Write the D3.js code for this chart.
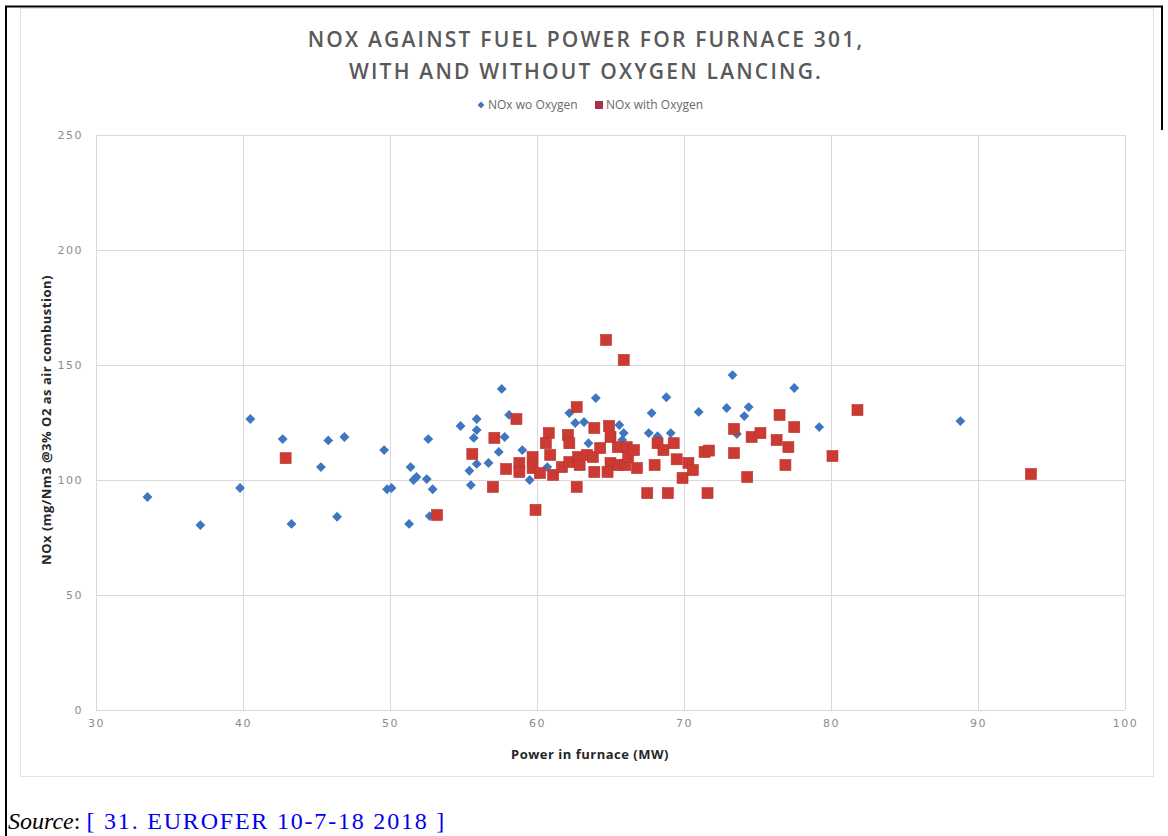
<!DOCTYPE html>
<html>
<head>
<meta charset="utf-8">
<script src="https://cdn.jsdelivr.net/npm/d3@7.9.0/dist/d3.min.js"></script>
<style>
  body { margin: 0; background: #fff; }
  svg { display: block; }
</style>
</head>
<body>
<svg id="chart" width="1168" height="836"></svg>
<script>
// NOx without oxygen lancing: [power MW, NOx]
const woOxygen = [
  [33.5, 92.6], [37.1, 80.4], [39.8, 96.5], [40.5, 126.5], [42.7, 117.8],
  [43.3, 80.9], [45.3, 105.6], [45.8, 117.2], [46.9, 118.7], [46.4, 84],
  [49.6, 113], [49.8, 96], [50.1, 96.5], [51.3, 80.9], [51.4, 105.6],
  [51.6, 100], [51.8, 101.3], [52.6, 117.8], [52.5, 100.4], [52.9, 96],
  [52.7, 84.3], [54.8, 123.5], [55.9, 126.5], [55.9, 121.7], [55.7, 118.3],
  [55.9, 107], [56.7, 107.4], [55.4, 104], [55.5, 97.8], [57.4, 112.2],
  [57.6, 139.6], [57.8, 118.7], [58.1, 128.3], [59.0, 113], [59.5, 100],
  [60.7, 105.6], [62.2, 129.1], [62.6, 124.8], [63.2, 125.2], [63.5, 116],
  [64.0, 135.6], [65.6, 123.9], [65.9, 120.4], [65.8, 117.4], [67.6, 120.4],
  [67.8, 129.1], [68.2, 119], [68.8, 136], [69.1, 120.4], [71.0, 129.6],
  [72.9, 131.3], [73.3, 145.6], [73.6, 120], [74.1, 127.8], [74.4, 131.7],
  [77.5, 140], [79.2, 123], [88.8, 125.6]
];

// NOx with oxygen lancing
const withOxygen = [
  [42.9, 109.5], [53.2, 84.8], [55.6, 111.3], [57.0, 97], [57.1, 118.3],
  [57.9, 104.8], [58.6, 126.5], [58.8, 107.4], [58.8, 103.5], [59.7, 110],
  [59.7, 105.2], [59.9, 87], [60.2, 103], [60.8, 120.4], [60.6, 116],
  [60.9, 110.9], [61.1, 102.2], [61.7, 105.6], [62.1, 119.6], [62.2, 116],
  [62.2, 107.8], [62.7, 131.7], [62.8, 110], [62.9, 106.5], [62.7, 97],
  [63.4, 110.9], [63.9, 122.6], [63.8, 110], [63.9, 103.5], [64.3, 113.9],
  [64.7, 160.9], [64.9, 123.5], [65.0, 118.7], [65.0, 107.4], [64.8, 103.5],
  [65.5, 114.3], [65.5, 106.5], [65.9, 152.2], [66.1, 114.3], [66.0, 106.5],
  [66.2, 110], [66.6, 113], [66.8, 105.2], [67.5, 94.3], [68.0, 106.5],
  [68.2, 116], [68.6, 113], [68.9, 94.3], [69.3, 116], [69.5, 109],
  [69.9, 100.9], [70.3, 107.4], [70.6, 104.3], [71.4, 112.2], [71.7, 112.8],
  [71.6, 94.3], [73.4, 122.2], [73.4, 111.7], [74.3, 101.3], [74.6, 118.7],
  [75.2, 120.4], [76.3, 117.4], [76.5, 128.3], [76.9, 106.5], [77.1, 114.3],
  [77.5, 123], [80.1, 110.4], [81.8, 130.4], [93.6, 102.6]
];

const xTicks = [30, 40, 50, 60, 70, 80, 90, 100];
const yTicks = [0, 50, 100, 150, 200, 250];
const titleLines = ["NOX AGAINST FUEL POWER FOR FURNACE 301,", "WITH AND WITHOUT OXYGEN LANCING."];

const svg = d3.select("#chart");
const blue = "#3f76c0";
const red = "#cc3b33";
const tickGrey = "#8c8c8c";

// page frame
svg.append("line").attr("x1", 5).attr("x2", 1163).attr("y1", 6.5).attr("y2", 6.5)
  .attr("stroke", "#000").attr("stroke-width", 2);
svg.append("line").attr("x1", 6).attr("x2", 6).attr("y1", 6).attr("y2", 836)
  .attr("stroke", "#000").attr("stroke-width", 2);
svg.append("line").attr("x1", 1162).attr("x2", 1162).attr("y1", 6).attr("y2", 130)
  .attr("stroke", "#000").attr("stroke-width", 2);

// chart image border
svg.append("rect").attr("x", 20.5).attr("y", 8.5).attr("width", 1133).attr("height", 768)
  .attr("fill", "#fff").attr("stroke", "#e2e2e2");

const x = d3.scaleLinear().domain([30, 100]).range([96, 1125]);
const y = d3.scaleLinear().domain([0, 250]).range([710, 135]);

// grid
const grid = svg.append("g");
grid.selectAll(".vg").data(xTicks).enter().append("line")
  .attr("x1", d => Math.round(x(d)) + 0.5).attr("x2", d => Math.round(x(d)) + 0.5)
  .attr("y1", y(250)).attr("y2", y(0))
  .attr("stroke", "#d9d9d9");
grid.selectAll(".hg").data(yTicks).enter().append("line")
  .attr("x1", x(30)).attr("x2", x(100))
  .attr("y1", d => Math.round(y(d)) + 0.5).attr("y2", d => Math.round(y(d)) + 0.5)
  .attr("stroke", "#d9d9d9");

// axes (labels only, Excel style)
const xAxis = svg.append("g").attr("transform", `translate(0,${y(0) + 9})`)
  .call(d3.axisBottom(x).tickValues(xTicks).tickSize(0).tickPadding(0));
const yAxis = svg.append("g").attr("transform", `translate(${x(30) - 13},0)`)
  .call(d3.axisLeft(y).tickValues(yTicks).tickSize(0).tickPadding(0));
[xAxis, yAxis].forEach(a => {
  a.select(".domain").remove();
  a.selectAll("text")
    .attr("fill", tickGrey)
    .attr("font-family", "'DejaVu Sans', sans-serif")
    .attr("font-size", "11px")
    .attr("letter-spacing", "1.5px");
});
yAxis.selectAll("text").attr("dy", "0.32em");

// series
svg.append("g").selectAll("path").data(woOxygen).enter().append("path")
  .attr("d", d3.symbol().type(d3.symbolDiamond2).size(62))
  .attr("transform", d => `translate(${x(d[0])},${y(d[1])})`)
  .attr("fill", blue);

svg.append("g").selectAll("rect").data(withOxygen).enter().append("rect")
  .attr("x", d => x(d[0]) - 5.5).attr("y", d => y(d[1]) - 5.5)
  .attr("width", 11).attr("height", 11)
  .attr("fill", red).attr("stroke", "#b83129").attr("stroke-width", 0.6);

// title
svg.append("g").selectAll("text").data(titleLines).enter().append("text")
  .attr("x", 586).attr("y", (d, i) => 47 + i * 32)
  .attr("text-anchor", "middle")
  .attr("font-family", "'Open Sans', sans-serif")
  .attr("font-weight", 600)
  .attr("font-size", "21px")
  .attr("letter-spacing", "2.2px")
  .attr("fill", "#595959")
  .text(d => d);

// legend
const legend = svg.append("g").attr("font-family", "'Open Sans', sans-serif")
  .attr("font-size", "12px").attr("fill", "#6a6a6a");
legend.append("path").attr("d", d3.symbol().type(d3.symbolDiamond2).size(30))
  .attr("transform", "translate(481,105)").attr("fill", blue);
legend.append("text").attr("x", 488).attr("y", 109).text("NOx wo Oxygen");
legend.append("rect").attr("x", 595).attr("y", 101).attr("width", 8).attr("height", 8)
  .attr("fill", "#a93249");
legend.append("text").attr("x", 606).attr("y", 109).text("NOx with Oxygen");

// axis titles
svg.append("text")
  .attr("transform", "translate(51,420) rotate(-90)")
  .attr("text-anchor", "middle")
  .attr("font-family", "'Open Sans', sans-serif")
  .attr("font-weight", 700).attr("font-size", "13px").attr("letter-spacing", "0.5px")
  .attr("fill", "#262626")
  .text("NOx (mg/Nm3 @3% O2 as air combustion)");
svg.append("text")
  .attr("x", 590).attr("y", 759)
  .attr("text-anchor", "middle")
  .attr("font-family", "'Open Sans', sans-serif")
  .attr("font-weight", 700).attr("font-size", "13px").attr("letter-spacing", "0.5px")
  .attr("fill", "#262626")
  .text("Power in furnace (MW)");

// source line
const src = svg.append("text").attr("x", 8).attr("y", 829)
  .attr("font-family", "'Liberation Serif', 'Times New Roman', serif")
  .attr("font-size", "24px");
src.append("tspan").attr("font-style", "italic").attr("fill", "#000").text("Source");
src.append("tspan").attr("fill", "#000").text(": ");
src.append("tspan").attr("fill", "#0000ee").attr("letter-spacing", "1.8px")
  .text("[ 31. EUROFER 10-7-18 2018 ]");
</script>
</body>
</html>
